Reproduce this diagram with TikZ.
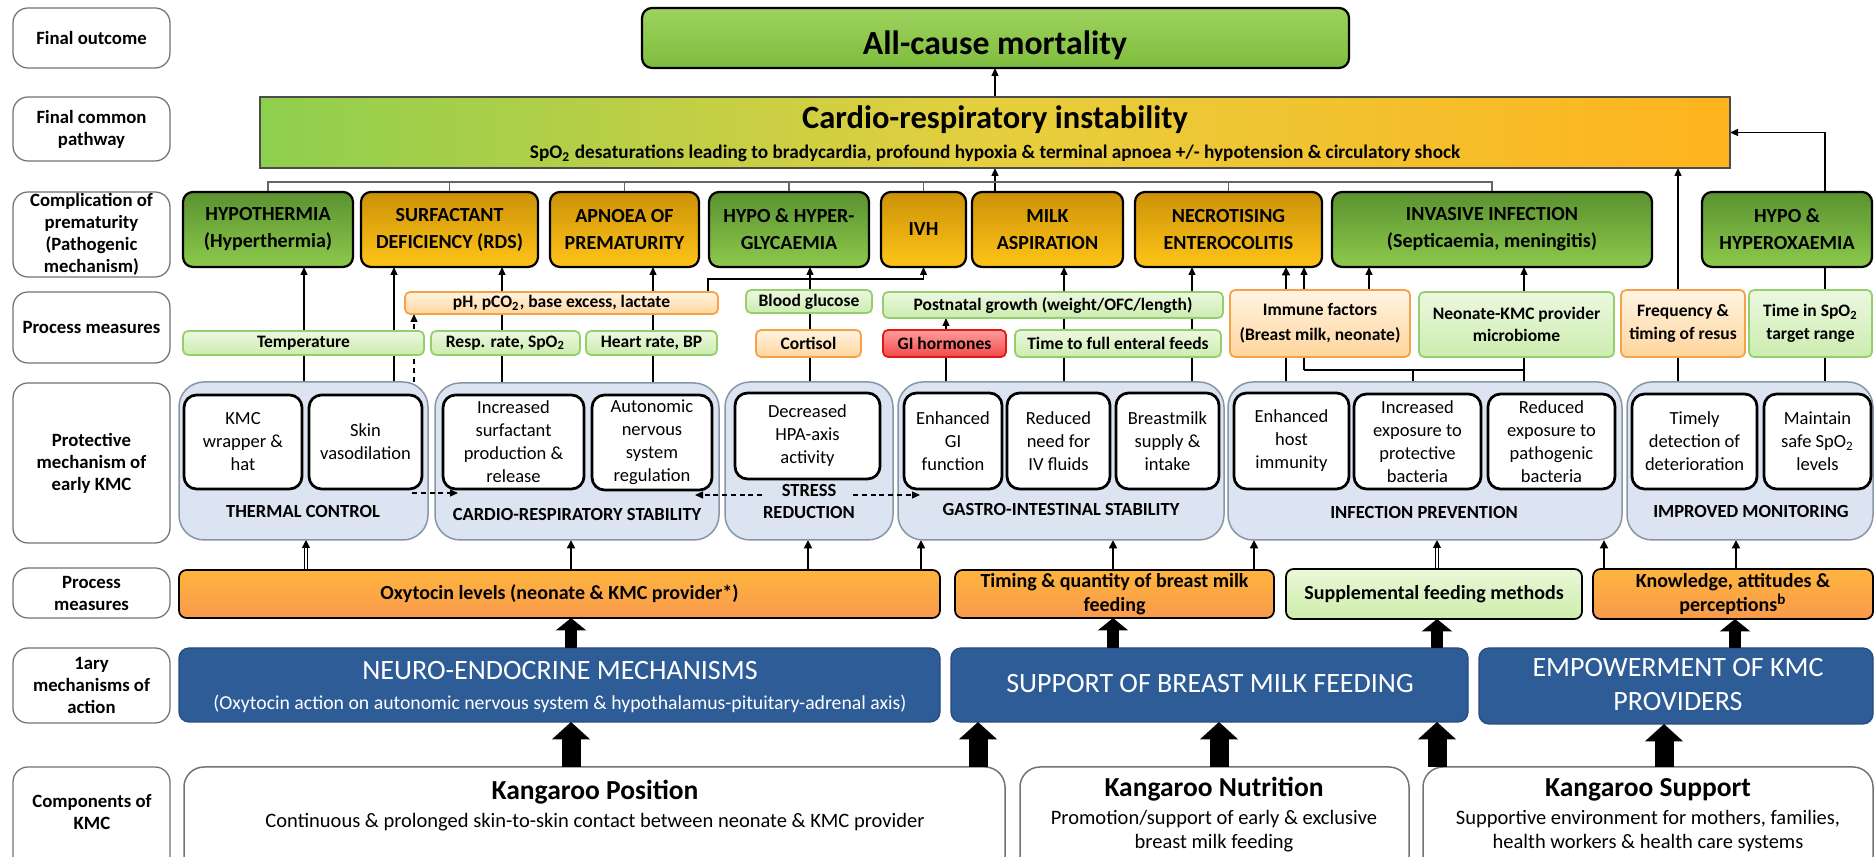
\documentclass[tikz,border=0pt]{standalone}
\usepackage{fontspec}
\setmainfont{Carlito}
\usetikzlibrary{arrows.meta,calc}
\pgfdeclarelayer{bg}
\pgfsetlayers{bg,main}
\definecolor{mortT}{HTML}{9DD35E}
\definecolor{mortB}{HTML}{7FBD3E}
\definecolor{cgT}{HTML}{5A9230}
\definecolor{cgB}{HTML}{8DC94C}
\definecolor{coT}{HTML}{CC9208}
\definecolor{coB}{HTML}{FFC418}
\definecolor{lgT}{HTML}{ECF8E0}
\definecolor{lgB}{HTML}{CBECAE}
\definecolor{lgD}{HTML}{94CF6C}
\definecolor{loT}{HTML}{FFF4E2}
\definecolor{loB}{HTML}{FFD59C}
\definecolor{loD}{HTML}{F5A148}
\definecolor{rdT}{HTML}{FF9C9C}
\definecolor{rdB}{HTML}{F24A4A}
\definecolor{rdD}{HTML}{E01818}
\definecolor{grpF}{HTML}{DBE4F0}
\definecolor{grpD}{HTML}{8796A6}
\definecolor{poT}{HTML}{FFB43E}
\definecolor{poB}{HTML}{F89A4C}
\definecolor{psT}{HTML}{EBF8D8}
\definecolor{psB}{HTML}{CDEDAA}
\definecolor{blu}{HTML}{2E5C97}
\definecolor{bluD}{HTML}{244B7E}
\definecolor{crG}{HTML}{8ECF4E}
\definecolor{crY}{HTML}{E6CF3E}
\definecolor{crO}{HTML}{FFB31E}
\pgfdeclarehorizontalshading{crshade}{100bp}{color(0bp)=(crG); color(25bp)=(crG); color(50bp)=(crY); color(75bp)=(crO); color(100bp)=(crO)}
\newcommand{\mybox}[7]{\node[#6, minimum width={(#4-#2)*0.4pt}, minimum height={(#5-#3)*0.4pt}] (#1) at ({(#2+#4)/2},{(#3+#5)/2}) {#7};}
\tikzset{
  every node/.style={inner sep=0pt, outer sep=0pt, align=center},
  rowlab/.style={draw=black!55, line width=0.5pt, rounded corners=6pt, fill=white, font=\fontsize{7.5}{8.8}\selectfont\bfseries},
  mortbox/.style={draw=black, line width=0.9pt, rounded corners=4pt, top color=mortT, bottom color=mortB},
  crbox/.style={draw=black!70, line width=0.5pt, shading=crshade},
  compG/.style={draw=black, line width=0.9pt, rounded corners=4pt, top color=cgT, bottom color=cgB, font=\fontsize{8}{10.8}\selectfont\bfseries},
  compO/.style={compG, top color=coT, bottom color=coB},
  pmG/.style={draw=lgD, line width=0.7pt, rounded corners=2pt, top color=lgT, bottom color=lgB, font=\fontsize{7}{9}\selectfont\bfseries},
  pmO/.style={pmG, draw=loD, top color=loT, bottom color=loB},
  pmR/.style={pmG, draw=rdD, top color=rdT, bottom color=rdB},
  grp/.style={draw=grpD, line width=0.6pt, rounded corners=10pt, fill=grpF},
  innerbox/.style={draw=black, line width=1.1pt, rounded corners=5pt, fill=white, font=\fontsize{7.4}{9.2}\selectfont},
  grplab/.style={font=\fontsize{7.4}{8.8}\selectfont\bfseries},
  lowO/.style={draw=black, line width=0.7pt, rounded corners=3pt, top color=poT, bottom color=poB, font=\fontsize{8}{9.6}\selectfont\bfseries},
  lowG/.style={lowO, top color=psT, bottom color=psB},
  bluebox/.style={draw=bluD, line width=0.5pt, rounded corners=4pt, fill=blu},
  bluet/.style={text=white, font=\fontsize{11.2}{13}\selectfont},
  blues/.style={text=white, font=\fontsize{7.9}{9}\selectfont},
  kmcbox/.style={draw=black!55, line width=0.6pt, rounded corners=8pt, fill=white},
  kt/.style={font=\fontsize{11}{13}\selectfont\bfseries},
  ks/.style={font=\fontsize{8.2}{9.6}\selectfont},
  ln/.style={line width=0.5pt},
  arr/.style={line width=0.5pt, -{Triangle[length=3.2pt,width=2.8pt]}},
  arrb/.style={line width=0.8pt, -{Triangle[length=3.4pt,width=3.2pt]}},
  dbl/.style={double, double distance=0.7pt, line width=0.35pt, -{Triangle[length=3.2pt,width=3.2pt]}},
  dsh/.style={arr, dash pattern=on 2pt off 1.5pt},
  brk/.style={draw=black!60, line width=0.6pt},
  fatA/.style={line width=4.8pt, -{Triangle[length=5pt,width=12pt]}},
  fatB/.style={line width=7.6pt, -{Triangle[length=7pt,width=15pt]}},
}
\begin{document}
\begin{tikzpicture}[x=0.4pt,y=-0.4pt]
\useasboundingbox (0,0) rectangle (1874,857);
\clip (0,0) rectangle (1874,857);
% ---------- row labels
\mybox{L1}{13}{8}{170}{68}{rowlab}{Final outcome}
\mybox{L2}{13}{97}{170}{161}{rowlab}{Final common\\pathway}
\mybox{L3}{13}{192}{170}{277}{rowlab}{Complication of\\prematurity\\(Pathogenic\\mechanism)}
\mybox{L4}{13}{292}{170}{363}{rowlab}{Process measures}
\mybox{L5}{13}{383}{170}{543}{rowlab}{Protective\\mechanism of\\early KMC}
\mybox{L6}{13}{568}{170}{618}{rowlab}{Process\\measures}
\mybox{L7}{13}{648}{170}{723}{rowlab}{1ary\\mechanisms of\\action}
\mybox{L8}{13}{767}{170}{890}{rowlab}{}
\node[font=\fontsize{7.5}{8.8}\selectfont\bfseries] (L8t) at (92,812) {Components of\\KMC};
% ---------- outcome and pathway
\mybox{mort}{642}{8}{1349}{68}{mortbox}{}
\node[anchor=base, font=\fontsize{13.5}{16}\selectfont\bfseries] (mortt) at (995,55) {All-cause mortality};
\mybox{cri}{260}{97}{1730}{168}{crbox}{}
\node[anchor=base, font=\fontsize{13}{15}\selectfont\bfseries] (crit) at (995,129) {Cardio-respiratory instability};
\node[anchor=base, font=\fontsize{7.7}{9}\selectfont\bfseries] (cris) at (995,159) {SpO\textsubscript{2} desaturations leading to bradycardia, profound hypoxia \& terminal apnoea +/- hypotension \& circulatory shock};
% ---------- complications
\mybox{c1}{183}{192}{353}{267}{compG}{HYPOTHERMIA\\(Hyperthermia)}
\mybox{c2}{361}{192}{538}{267}{compO}{SURFACTANT\\DEFICIENCY (RDS)}
\mybox{c3}{550}{192}{699}{267}{compO}{APNOEA OF\\PREMATURITY}
\mybox{c4}{709}{192}{869}{267}{compG}{HYPO \& HYPER-\\GLYCAEMIA}
\mybox{c5}{881}{192}{966}{267}{compO}{IVH}
\mybox{c6}{972}{192}{1123}{267}{compO}{MILK\\ASPIRATION}
\mybox{c7}{1135}{192}{1322}{267}{compO}{NECROTISING\\ENTEROCOLITIS}
\mybox{c8}{1332}{192}{1652}{267}{compG}{INVASIVE INFECTION\\(Septicaemia, meningitis)}
\mybox{c9}{1702}{192}{1872}{267}{compG}{HYPO \&\\HYPEROXAEMIA}
% ---------- upper process measures
\mybox{ph}{405}{292}{718}{314}{pmO}{pH, pCO\textsubscript{2}, base excess, lactate}
\mybox{temp}{183}{331}{424}{355}{pmG}{Temperature}
\mybox{resp}{431}{331}{580}{355}{pmG}{Resp. rate, SpO\textsubscript{2}}
\mybox{hr}{586}{331}{717}{355}{pmG}{Heart rate, BP}
\mybox{bg}{746}{290}{872}{313}{pmG}{Blood glucose}
\mybox{cort}{756}{330}{861}{357}{pmO}{Cortisol}
\mybox{png}{883}{292}{1223}{318}{pmG}{Postnatal growth (weight/OFC/length)}
\mybox{gih}{883}{330}{1006}{357}{pmR}{GI hormones}
\mybox{ttf}{1015}{330}{1221}{357}{pmG}{Time to full enteral feeds}
\mybox{imm}{1230}{290}{1410}{357}{pmO, font=\fontsize{7}{10}\selectfont\bfseries}{Immune factors\\(Breast milk, neonate)}
\mybox{mic}{1419}{292}{1614}{357}{pmG}{Neonate-KMC provider\\microbiome}
\mybox{freq}{1621}{290}{1745}{357}{pmO}{Frequency \&\\timing of resus}
\mybox{tis}{1749}{290}{1872}{357}{pmG}{Time in SpO\textsubscript{2}\\target range}
% ---------- protective groups
\mybox{g1}{179}{382}{428}{540}{grp}{}
\mybox{g2}{435}{383}{719}{540}{grp}{}
\mybox{g3}{725}{382}{893}{540}{grp}{}
\mybox{g4}{898}{382}{1224}{540}{grp}{}
\mybox{g5}{1228}{382}{1622}{540}{grp}{}
\mybox{g6}{1627}{382}{1873}{540}{grp}{}
\mybox{i1}{184}{395}{302}{489}{innerbox}{KMC\\wrapper \&\\hat}
\mybox{i2}{309}{395}{422}{489}{innerbox}{Skin\\vasodilation}
\mybox{i3}{443}{395}{584}{489}{innerbox}{Increased\\surfactant\\production \&\\release}
\mybox{i4}{592}{395}{712}{490}{innerbox}{Autonomic\\nervous\\system\\regulation}
\mybox{i5}{735}{393}{880}{479}{innerbox}{Decreased\\HPA-axis\\activity}
\mybox{i6}{904}{393}{1002}{489}{innerbox}{Enhanced\\GI\\function}
\mybox{i7}{1007}{393}{1110}{489}{innerbox}{Reduced\\need for\\IV fluids}
\mybox{i8}{1116}{393}{1219}{489}{innerbox}{Breastmilk\\supply \&\\intake}
\mybox{i9}{1234}{393}{1349}{489}{innerbox}{Enhanced\\host\\immunity}
\mybox{i10}{1354}{394}{1481}{489}{innerbox}{Increased\\exposure to\\protective\\bacteria}
\mybox{i11}{1488}{394}{1615}{489}{innerbox}{Reduced\\exposure to\\pathogenic\\bacteria}
\mybox{i12}{1632}{394}{1757}{489}{innerbox}{Timely\\detection of\\deterioration}
\mybox{i13}{1764}{394}{1871}{489}{innerbox}{Maintain\\safe SpO\textsubscript{2}\\levels}
\node[grplab] (g1l) at (303,512) {THERMAL CONTROL};
\node[grplab] (g2l) at (577,515) {CARDIO-RESPIRATORY STABILITY};
\node[grplab] (g3l) at (809,502) {STRESS\\REDUCTION};
\node[grplab] (g4l) at (1061,510) {GASTRO-INTESTINAL STABILITY};
\node[grplab] (g5l) at (1424,513) {INFECTION PREVENTION};
\node[grplab] (g6l) at (1751,512) {IMPROVED MONITORING};
% dashed arrows inside the groups
\coordinate (da1) at (412,493); \coordinate (da2) at (458,493);
\coordinate (db1) at (762,495); \coordinate (db2) at (695,495);
\coordinate (dc1) at (853,495); \coordinate (dc2) at (920,495);
\draw[dsh] (da1) -- (da2);
\draw[dsh] (db1) -- (db2);
\draw[dsh] (dc1) -- (dc2);
% ---------- lower process measures
\mybox{p1}{179}{570}{940}{618}{lowO}{Oxytocin levels (neonate \& KMC provider*)}
\mybox{p2}{955}{570}{1274}{618}{lowO}{Timing \& quantity of breast milk\\feeding}
\mybox{p3}{1286}{569}{1582}{619}{lowG}{Supplemental feeding methods}
\mybox{p4}{1593}{569}{1873}{619}{lowO}{Knowledge, attitudes \&\\perceptions\textsuperscript{b}}
% ---------- primary mechanisms
\mybox{m1}{179}{648}{940}{722}{bluebox}{}
\node[anchor=base, bluet] (m1a) at (560,680) {NEURO-ENDOCRINE MECHANISMS};
\node[anchor=base, blues] (m1b) at (560,710) {(Oxytocin action on autonomic nervous system \& hypothalamus-pituitary-adrenal axis)};
\mybox{m2}{951}{648}{1468}{722}{bluebox}{}
\node[anchor=base, bluet] (m2a) at (1210,693) {SUPPORT OF BREAST MILK FEEDING};
\mybox{m3}{1479}{648}{1873}{724}{bluebox}{}
\node[anchor=base, bluet] (m3a) at (1678,677) {EMPOWERMENT OF KMC};
\node[anchor=base, bluet] (m3b) at (1678,711) {PROVIDERS};
% ---------- components
\mybox{k1}{184}{767}{1005}{890}{kmcbox}{}
\node[anchor=base, kt] (k1a) at (595,800) {Kangaroo Position};
\node[anchor=base, ks] (k1b) at (595,828) {Continuous \& prolonged skin-to-skin contact between neonate \& KMC provider};
\mybox{k2}{1020}{767}{1409}{890}{kmcbox}{}
\node[anchor=base, kt] (k2a) at (1214,797) {Kangaroo Nutrition};
\node[anchor=base, ks] (k2b) at (1214,825) {Promotion/support of early \& exclusive};
\node[anchor=base, ks] (k2c) at (1214,849) {breast milk feeding};
\mybox{k3}{1423}{767}{1873}{890}{kmcbox}{}
\node[anchor=base, kt] (k3a) at (1648,797) {Kangaroo Support};
\node[anchor=base, ks] (k3b) at (1648,825) {Supportive environment for mothers, families,};
\node[anchor=base, ks] (k3c) at (1648,849) {health workers \& health care systems};
% ---------- block arrows
\draw[fatA] (m1.north -| 571,0) -- (p1.south -| 571,0);
\draw[fatA] (m2.north -| 1113,0) -- (p2.south -| 1113,0);
\draw[fatA] (m2.north -| 1437,0) -- (p3.south -| 1437,0);
\draw[fatA] (m3.north -| 1735,0) -- (p4.south -| 1735,0);
\draw[fatB] (k1.north -| 571,0) -- (m1.south -| 571,0);
\draw[fatB] (k1.north -| 978,0) -- (m2.south -| 978,0);
\draw[fatB] (k2.north -| 1219,0) -- (m2.south -| 1219,0);
\draw[fatB] (k3.north -| 1437,0) -- (m2.south -| 1437,0);
\draw[fatB] (k3.north -| 1664,0) -- (m3.south -| 1664,0);
% ---------- connectors (behind boxes)
\begin{pgfonlayer}{bg}
\draw[arr] (cri.north) -- (mort.south -| cri.north);
\draw[arr] (c6.north -| cri.south) -- (cri.south);
\draw[brk] (c1.north) -- (c1.north |- 0,182) -- (c8.north |- 0,182) -- (c8.north);
\foreach \n in {c2,c3,c4,c5,c7} \draw[brk] (\n.north) -- (\n.north |- 0,182);
\draw[arr] (g6.north -| 1678,0) -- (cri.south -| 1678,0);
\draw[ln] (g6.north -| 1825,0) -- (c9.south -| 1825,0);
\draw[arr] (c9.north -| 1825,0) |- (cri.east);
\draw[arr] (g1.north -| 304,0) -- (c1.south -| 304,0);
\draw[arr] (g1.north -| 394,0) -- (c2.south -| 394,0);
\draw[dsh] (g1.north -| 414,0) -- (ph.south -| 414,0);
\draw[arr] (g2.north -| 502,0) -- (c2.south -| 502,0);
\draw[arr] (g2.north -| 653,0) -- (c3.south -| 653,0);
\draw[arr] (ph.north -| 708,0) |- ($(c5.south)+(0,12)$) -- (c5.south);
\draw[arr] (g3.north -| 810,0) -- (c4.south -| 810,0);
\draw[arr] (g4.north -| 946,0) -- (png.south -| 946,0);
\draw[arr] (g4.north -| 1064,0) -- (c6.south -| 1064,0);
\draw[arr] (g4.north -| 1192,0) -- (c7.south -| 1192,0);
\draw[arrb] (g5.north -| 1286,0) -- (c7.south -| 1286,0);
\coordinate (jn) at (1304,370);
\draw[ln] (g5.north -| 1524,0) |- (jn);
\draw[arr] (jn) -- (c7.south -| jn);
\draw[ln] (g5.north -| 1413,0) -- (jn -| 1413,0);
\draw[arr] (g5.north -| 1524,0) -- (c8.south -| 1524,0);
\draw[arr] (imm.north -| 1369,0) -- (c8.south -| 1369,0);
\draw[dbl] (p1.north -| 306,0) -- (g1.south -| 306,0);
\draw[arrb] (p1.north -| 571,0) -- (g2.south -| 571,0);
\draw[arrb] (p1.north -| 808,0) -- (g3.south -| 808,0);
\draw[arrb] (p1.north -| 921,0) -- (g4.south -| 921,0);
\draw[arrb] (p2.north -| 1113,0) -- (g4.south -| 1113,0);
\draw[arrb] (p2.north -| 1254,0) -- (g5.south -| 1254,0);
\draw[dbl] (p3.north -| 1437,0) -- (g5.south -| 1437,0);
\draw[arrb] (p4.north -| 1604,0) -- (g5.south -| 1604,0);
\draw[arrb] (p4.north -| 1736,0) -- (g6.south -| 1736,0);
\end{pgfonlayer}
\end{tikzpicture}
\end{document}
